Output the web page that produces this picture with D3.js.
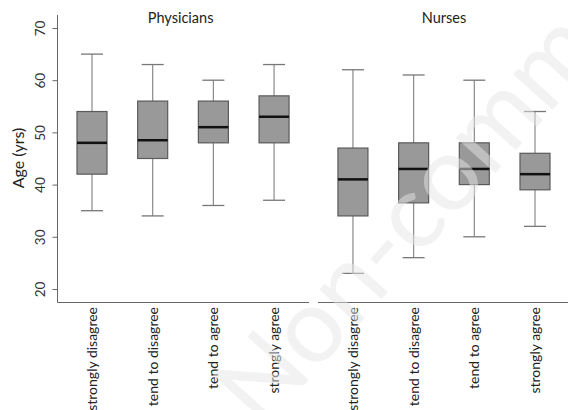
<!DOCTYPE html>
<html>
<head>
<meta charset="utf-8">
<script src="https://cdn.jsdelivr.net/npm/d3@7"></script>
<style>
  body { margin: 0; background: #fff; }
  svg { display: block; font-family: Lato, "Open Sans", sans-serif; }
  .lbl { font-size: 14px; fill: #222; }
</style>
</head>
<body>
<div id="chart"></div>
<script>
// data
const groups = ["Physicians", "Nurses"];
const categories = ["strongly disagree", "tend to disagree", "tend to agree", "strongly agree",
                    "strongly disagree", "tend to disagree", "tend to agree", "strongly agree"];
const positions = [1, 2, 3, 4, 5.3, 6.3, 7.3, 8.3];
const whiskerLow = [35, 34, 36, 37, 23, 26, 30, 32];
const q1 = [42, 45, 48, 48, 34, 36.5, 40, 39];
const median = [48, 48.5, 51, 53, 41, 43, 43, 42];
const q3 = [54, 56, 56, 57, 47, 48, 48, 46];
const whiskerHigh = [65, 63, 60, 63, 62, 61, 60, 54];
const yTicks = [20, 30, 40, 50, 60, 70];

const width = 568, height = 410,
  boxHalf = 15, capHalf = 11;

const x = d3.scaleLinear().domain([1, 8.3]).range([92, 535]);
const y = d3.scaleLinear().domain([20, 70]).range([289, 28]);

const boxes = categories.map((c, i) => ({
  cat: c, pos: positions[i], lo: whiskerLow[i], q1: q1[i], med: median[i], q3: q3[i], hi: whiskerHigh[i]
}));

const svg = d3.select("#chart").append("svg")
  .attr("width", width).attr("height", height);

// axis lines (L shape, bottom one broken by the watermark)
svg.append("line")
  .attr("x1", 57.5).attr("x2", 57.5).attr("y1", 15).attr("y2", 302.5)
  .attr("stroke", "#666").attr("stroke-width", 1);
svg.append("line")
  .attr("x1", 57.5).attr("x2", 309).attr("y1", 302.5).attr("y2", 302.5)
  .attr("stroke", "#666").attr("stroke-width", 1);
svg.append("line")
  .attr("x1", 318).attr("x2", width).attr("y1", 302.5).attr("y2", 302.5)
  .attr("stroke", "#666").attr("stroke-width", 1);

// y axis
const yAxis = d3.axisLeft(y).tickValues(yTicks).tickSize(5).tickPadding(5);
const gy = svg.append("g")
  .attr("transform", "translate(57.5,0)")
  .call(yAxis);
gy.select(".domain").remove();
gy.selectAll(".tick line").attr("stroke", "#666");
gy.selectAll(".tick text")
  .attr("font-size", 13.5).attr("fill", "#333")
  .attr("font-family", "Lato, sans-serif")
  .attr("transform", "rotate(-90,-17,0)")
  .attr("x", -17).attr("dy", "0.35em").attr("text-anchor", "middle");

svg.append("text")
  .attr("transform", "translate(24,158) rotate(-90)")
  .attr("text-anchor", "middle")
  .attr("font-size", 16).attr("fill", "#222")
  .text("Age (yrs)");

// group titles
svg.selectAll(".title")
  .data(groups)
  .join("text")
  .attr("class", "title")
  .attr("x", (d, i) => i === 0 ? x(2.46) : x(6.8))
  .attr("y", 23)
  .attr("text-anchor", "middle")
  .attr("font-size", 14.5).attr("fill", "#222")
  .text(d => d);

// boxplots
const g = svg.selectAll(".box")
  .data(boxes)
  .join("g")
  .attr("class", "box");

g.append("line")
  .attr("x1", d => x(d.pos)).attr("x2", d => x(d.pos))
  .attr("y1", d => y(d.hi)).attr("y2", d => y(d.lo))
  .attr("stroke", "#8a8a8a").attr("stroke-width", 1.2);
g.append("line")
  .attr("x1", d => x(d.pos) - capHalf).attr("x2", d => x(d.pos) + capHalf)
  .attr("y1", d => y(d.hi)).attr("y2", d => y(d.hi))
  .attr("stroke", "#777").attr("stroke-width", 1.3);
g.append("line")
  .attr("x1", d => x(d.pos) - capHalf).attr("x2", d => x(d.pos) + capHalf)
  .attr("y1", d => y(d.lo)).attr("y2", d => y(d.lo))
  .attr("stroke", "#777").attr("stroke-width", 1.3);
g.append("rect")
  .attr("x", d => x(d.pos) - boxHalf)
  .attr("y", d => y(d.q3))
  .attr("width", boxHalf * 2)
  .attr("height", d => y(d.q1) - y(d.q3))
  .attr("fill", "#999")
  .attr("stroke", "#5a5a5a").attr("stroke-width", 1.2);
g.append("line")
  .attr("x1", d => x(d.pos) - boxHalf).attr("x2", d => x(d.pos) + boxHalf)
  .attr("y1", d => y(d.med)).attr("y2", d => y(d.med))
  .attr("stroke", "#111").attr("stroke-width", 2.5);

// category labels
svg.selectAll(".lbl")
  .data(boxes)
  .join("text")
  .attr("class", "lbl")
  .attr("transform", d => `translate(${x(d.pos) + 5},307) rotate(-90)`)
  .attr("text-anchor", "end")
  .text(d => d.cat);

// watermark
svg.append("text")
  .attr("transform", "translate(262,432) rotate(-48)")
  .attr("font-size", 104)
  .attr("fill", "#e6e6e6")
  .attr("opacity", 0.5)
  .text("Non-commercial");
</script>
</body>
</html>
